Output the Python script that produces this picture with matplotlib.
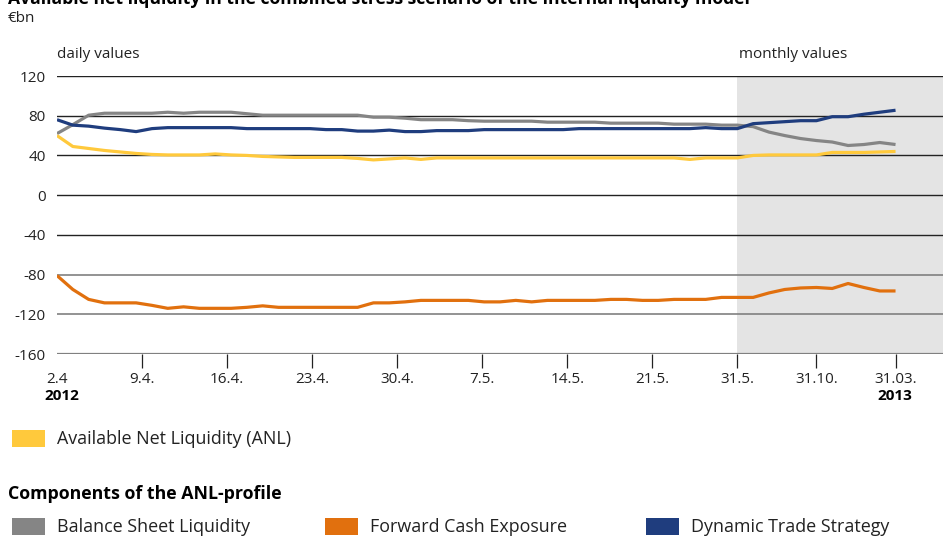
import numpy as np
import matplotlib.pyplot as plt
from matplotlib.patches import Rectangle

plt.rcParams['font.family'] = ['Open Sans', 'DejaVu Sans']

# ------------------------------------------------
# Data (EUR bn), 44 daily values 2.4.-31.5.2012, then monthly to 31.03.2013
# ------------------------------------------------

anl = [60, 49, 47, 45, 43.5, 42, 41, 40.5, 40.5, 40.5, 41.5, 40.5, 40, 39, 38.5,
       38, 38, 38, 38, 37, 35.5, 36.5, 37.5, 36, 37.5, 37.5, 37.5, 37.5, 37.5, 37.5,
       37.5, 37.5, 37.5, 37.5, 37.5, 37.5, 37.5, 37.5, 37.5, 37.5, 36, 37.5, 37.5, 37.5,
       40, 40.5, 40.5, 40.5, 40.5, 43, 43, 43, 43.5, 44]

balance_sheet = [62, 71, 80.5, 82.5, 82.5, 82.5, 82.5, 83.5, 82.5, 83.5, 83.5, 83.5, 82, 80.5,
                 80.5, 80.5, 80.5, 80.5, 80.5, 80.5, 78.5, 78.5, 77.5, 76, 76, 76, 75, 74.5,
                 74.5, 74.5, 74.5, 73.5, 73.5, 73.5, 73.5, 72.5, 72.5, 72.5, 72.5, 71.5, 71.5,
                 71.5, 70.5, 70.5, 69, 63.5, 60, 57, 55, 53.5, 50, 51, 53, 51]

forward_cash = [-81, -95, -105, -108.5, -108.5, -108.5, -111, -114, -112.5, -114, -114, -114,
                -113, -111.5, -113, -113, -113, -113, -113, -113, -108.5, -108.5, -107.5, -106,
                -106, -106, -106, -107.5, -107.5, -106, -107.5, -106, -106, -106, -106, -105,
                -105, -106, -106, -105, -105, -105, -103, -103, -103, -98.5, -95, -93.5, -93,
                -94, -89, -93, -96.5, -96.5]

dynamic_trade = [76, 70.5, 69.5, 67.5, 66, 64, 67, 68, 68, 68, 68, 68, 67, 67, 67, 67, 67, 66,
                 66, 64.5, 64.5, 65.5, 64, 64, 65, 65, 65, 66, 66, 66, 66, 66, 66, 67, 67, 67,
                 67, 67, 67, 67, 67, 68, 67, 67, 72, 73, 74, 75, 75, 79, 79, 81.5, 83.5, 85.5]

daily_labels = ["2.4", "9.4.", "16.4.", "23.4.", "30.4.", "7.5.", "14.5.", "21.5.", "31.5."]
monthly_labels = ["31.10.", "31.03."]

N_DAILY = 44

series = [
    ("Available Net Liquidity (ANL)", anl, "#ffc93c"),
    ("Balance Sheet Liquidity", balance_sheet, "#858585"),
    ("Forward Cash Exposure", forward_cash, "#e1700e"),
    ("Dynamic Trade Strategy", dynamic_trade, "#1f3d7e"),
]

# ------------------------------------------------
# Plot
# ------------------------------------------------

fig = plt.figure(figsize=(9.43, 5.46), dpi=100)
ax = fig.add_axes([57 / 943, 1 - 354 / 546, 1 - 57 / 943, (354 - 76) / 546])

x = np.arange(len(anl))
last_daily = N_DAILY - 1

ax.axvspan(last_daily, 56, color="#e4e4e4", zorder=0, lw=0)

for y in [120, 80, 40, 0, -40]:
    ax.axhline(y, color="#222222", lw=1.0, zorder=1)
for y in [-80, -120]:
    ax.axhline(y, color="#808080", lw=1.2, zorder=1)
ax.axhline(-160, color="#808080", lw=1.6, zorder=1)

# gray and blue drawn first, yellow/orange on top
for name, vals, col in [series[1], series[3], series[0], series[2]]:
    ax.plot(x, vals, color=col, lw=2.3, zorder=3, solid_capstyle="butt")

ax.set_xlim(0, 56)
ax.set_ylim(-160, 120)

daily_ticks = list(np.linspace(0, last_daily, len(daily_labels)))
monthly_ticks = [last_daily + 5, last_daily + 10]
ax.set_xticks(daily_ticks + monthly_ticks)
ax.set_xticklabels(daily_labels + monthly_labels, fontsize=11, color="#222222")
ax.tick_params(axis="x", length=10, width=0.9, color="#222222", pad=3, direction="out")
ax.xaxis.get_major_ticks()[0].tick1line.set_visible(False)
ax.set_yticks(range(-160, 121, 40))
ax.set_yticklabels([str(v) for v in range(-160, 121, 40)], fontsize=11, color="#222222")
ax.tick_params(axis="y", length=0, pad=8)

for s in ax.spines.values():
    s.set_visible(False)

# texts
fig.text(8 / 943, 1 - 4 / 546, "Available net liquidity in the combined stress scenario of the internal liquidity model",
         fontsize=12.6, fontweight="bold", va="baseline", ha="left")
fig.text(8 / 943, 1 - 18 / 546, "€bn", fontsize=11, va="center", ha="left", color="#222222")
fig.text(57 / 943, 1 - 55 / 546, "daily values", fontsize=11, va="center", ha="left", color="#222222")
fig.text(739 / 943, 1 - 55 / 546, "monthly values", fontsize=11, va="center", ha="left", color="#222222")
fig.text(62 / 943, 1 - 396 / 546, "2012", fontsize=11, fontweight="bold", va="center", ha="center")
fig.text(895 / 943, 1 - 396 / 546, "2013", fontsize=11, fontweight="bold", va="center", ha="center")

# legend
def legend_item(px, py, label, col):
    fig.patches.append(Rectangle((px / 943, 1 - (py + 8) / 546), 33 / 943, 17 / 546,
                                 transform=fig.transFigure, color=col, lw=0))
    fig.text((px + 45) / 943, 1 - py / 546, label, fontsize=12.9, va="center", ha="left", color="#222222")

legend_item(12, 439, series[0][0], series[0][2])
fig.text(8 / 943, 1 - 494 / 546, "Components of the ANL-profile", fontsize=12.8, fontweight="bold",
         va="center", ha="left")
legend_item(12, 527, series[1][0], series[1][2])
legend_item(325, 527, series[2][0], series[2][2])
legend_item(646, 527, series[3][0], series[3][2])

fig.savefig("out.png", dpi=100)
